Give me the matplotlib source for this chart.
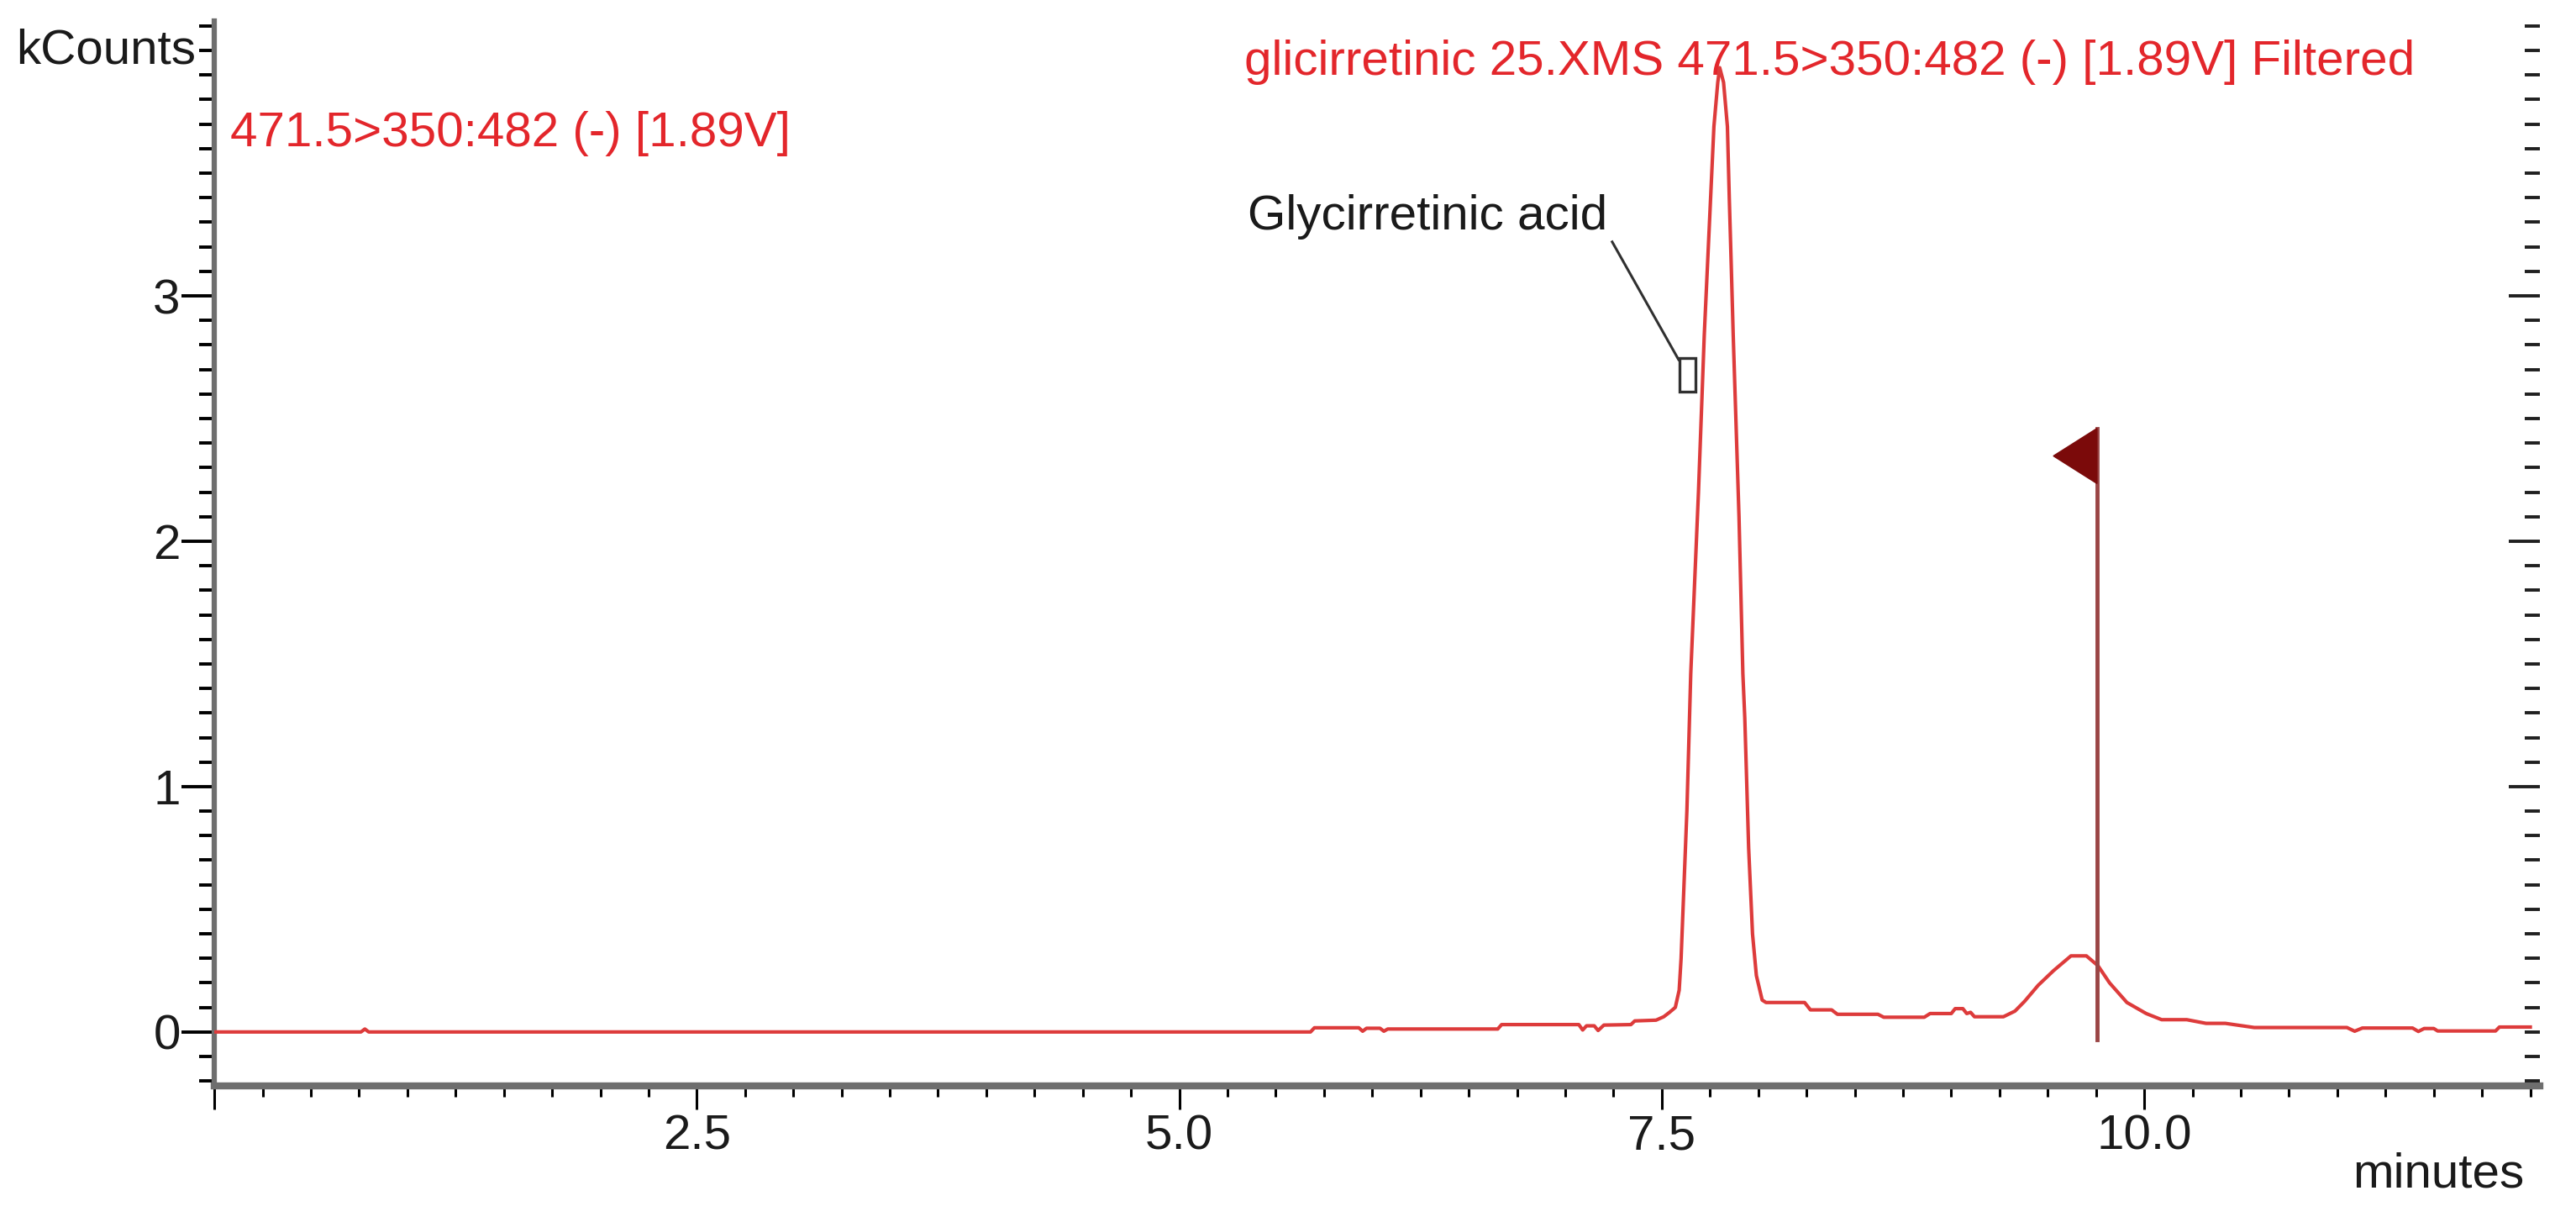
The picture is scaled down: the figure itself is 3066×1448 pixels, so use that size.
import matplotlib
matplotlib.use("Agg")
import matplotlib.pyplot as plt
from matplotlib.patches import Rectangle, Polygon
from matplotlib.ticker import FixedLocator, FixedFormatter, MultipleLocator

plt.rcParams['font.family'] = ['Liberation Sans', 'DejaVu Sans']

# chromatogram trace (minutes, kCounts)
rt = [0.00, 0.76, 0.78, 0.80, 5.68, 5.70, 5.93, 5.95, 5.97, 6.04, 6.06, 6.08,
      6.65, 6.67, 7.07, 7.09, 7.11, 7.15, 7.17, 7.20, 7.34, 7.36, 7.47, 7.51,
      7.54, 7.57, 7.59, 7.60, 7.61, 7.63, 7.65, 7.69, 7.72, 7.75, 7.77, 7.79,
      7.80, 7.82, 7.84, 7.85, 7.86, 7.87, 7.90, 7.92, 7.93, 7.95, 7.97, 7.99,
      8.02, 8.04, 8.24, 8.27, 8.38, 8.41, 8.62, 8.65, 8.86, 8.89, 9.00, 9.02,
      9.06, 9.08, 9.10, 9.12, 9.27, 9.33, 9.38, 9.45, 9.53, 9.62, 9.70, 9.76,
      9.82, 9.91, 10.01, 10.09, 10.22, 10.32, 10.42, 10.57, 11.05, 11.09, 11.13,
      11.39, 11.42, 11.45, 11.50, 11.52, 11.82, 11.84, 12.00]
counts = [0.0, 0.0, 0.012, 0.0, 0.0, 0.017, 0.017, 0.003, 0.015, 0.015, 0.003, 0.012,
          0.012, 0.03, 0.03, 0.008, 0.025, 0.025, 0.006, 0.028, 0.03, 0.045, 0.048, 0.062,
          0.08, 0.10, 0.17, 0.30, 0.50, 0.90, 1.46, 2.20, 2.84, 3.35, 3.69, 3.87,
          3.93, 3.87, 3.69, 3.39, 3.12, 2.84, 2.10, 1.46, 1.28, 0.75, 0.40, 0.23,
          0.13, 0.12, 0.12, 0.09, 0.09, 0.072, 0.072, 0.06, 0.06, 0.075, 0.075, 0.095,
          0.095, 0.075, 0.08, 0.062, 0.062, 0.085, 0.125, 0.19, 0.25, 0.31, 0.31, 0.27,
          0.20, 0.12, 0.075, 0.05, 0.05, 0.035, 0.035, 0.018, 0.018, 0.003, 0.016,
          0.016, 0.002, 0.014, 0.014, 0.004, 0.004, 0.02, 0.02]

x_major = [0, 2.5, 5.0, 7.5, 10.0]
x_labels = ['', '2.5', '5.0', '7.5', '10.0']
y_major = [0, 1, 2, 3]
y_labels = ['0', '1', '2', '3']

title_text = "glicirretinic 25.XMS 471.5>350:482 (-) [1.89V] Filtered"
title_xy = (5.335, 3.90)
trace_text = "471.5>350:482 (-) [1.89V]"
trace_xy = (0.083, 3.61)
peak_text = "Glycirretinic acid"
peak_text_xy = (5.353, 3.27)
leader_x = [7.243, 7.587]
leader_y = [3.22, 2.74]
box_xy = (7.59, 2.61)
box_w, box_h = 0.085, 0.137
marker_rt = 9.755
marker_bottom, marker_top = -0.03, 2.46
flag_w, flag_h = 0.226, 0.225

RED = '#e3262b'
TRACE = '#dd3b3b'
GRAY = '#6e6e6e'

fig = plt.figure(figsize=(30.66, 14.48), dpi=100)
ax = fig.add_axes([0.0832, 0.1077, 0.9028, 0.875])
ax.set_xlim(0, 12.05)
ax.set_ylim(-0.22, 4.12)

ax.plot(rt, counts, color=TRACE, lw=3, zorder=4)

# peak marker (flag)
ax.plot([marker_rt, marker_rt], [marker_bottom, marker_top], color='#9a4545', lw=3.5, zorder=5)
ax.add_patch(Polygon([(marker_rt, marker_top), (marker_rt, marker_top - flag_h),
                      (marker_rt - flag_w, marker_top - flag_h / 2)],
                     closed=True, color='#7b0a0a', zorder=6))

# peak label
ax.text(*peak_text_xy, peak_text, fontsize=42, color='#1a1a1a', va='baseline')
ax.plot(leader_x, leader_y, color='#303030', lw=2.2)
ax.add_patch(Rectangle(box_xy, box_w, box_h, fill=False, ec='#303030', lw=2.4, zorder=5))

ax.text(*title_xy, title_text, fontsize=42, color=RED, va='baseline', zorder=3)
ax.text(*trace_xy, trace_text, fontsize=42, color=RED, va='baseline')

for s in ['top', 'right']:
    ax.spines[s].set_visible(False)
ax.spines['left'].set_color(GRAY)
ax.spines['left'].set_linewidth(4.5)
ax.spines['bottom'].set_color(GRAY)
ax.spines['bottom'].set_linewidth(6)

ax.xaxis.set_major_locator(FixedLocator(x_major))
ax.xaxis.set_major_formatter(FixedFormatter(x_labels))
ax.xaxis.set_minor_locator(MultipleLocator(0.25))
ax.yaxis.set_major_locator(FixedLocator(y_major))
ax.yaxis.set_major_formatter(FixedFormatter(y_labels))
ax.yaxis.set_minor_locator(MultipleLocator(0.1))

ax.tick_params(axis='x', which='major', length=20, width=2.2, color='black',
               pad=4, labelsize=42, labelcolor='#1a1a1a')
ax.tick_params(axis='x', which='minor', length=9, width=2.2, color='black')
ax.tick_params(axis='y', which='major', length=28, width=2.8, color='black',
               pad=1, labelsize=42, labelcolor='#1a1a1a')
ax.tick_params(axis='y', which='minor', length=13, width=2.8, color='black')

ax.text(-0.008, 4.0, 'kCounts', transform=ax.get_yaxis_transform(),
        fontsize=42, color='#1a1a1a', ha='right', va='center')

# inward ticks on the right edge
ax2 = ax.twinx()
ax2.set_ylim(ax.get_ylim())
for s in ax2.spines.values():
    s.set_visible(False)
ax2.yaxis.set_major_locator(FixedLocator([1, 2, 3]))
ax2.yaxis.set_minor_locator(MultipleLocator(0.1))
ax2.tick_params(axis='y', which='major', direction='in', length=26.6, width=2.8,
                color='#202020', labelright=False)
ax2.tick_params(axis='y', which='minor', direction='in', length=13, width=2.8,
                color='#202020')

fig.text(0.980, 0.0242, 'minutes', fontsize=42, color='#1a1a1a', ha='right', va='baseline')

fig.savefig('out.png', dpi=100, facecolor='white')
